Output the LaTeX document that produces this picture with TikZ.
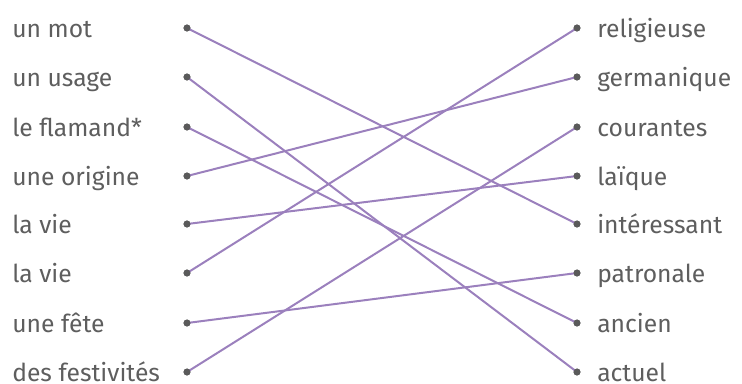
\documentclass[tikz,border=0pt]{standalone}
\usepackage{fontspec}
\setmainfont{Fira Sans}
\definecolor{txt}{HTML}{5E5E5E}
\definecolor{lnk}{HTML}{9B80BD}
\definecolor{dotc}{HTML}{5A5A5A}
\begin{document}
\begin{tikzpicture}[x=0.75pt,y=-0.75pt,
  lab/.style={font=\fontsize{18.5}{20}\selectfont,text=txt,inner sep=0pt,anchor=base west},
  dotn/.style={circle,fill=dotc,inner sep=0pt,minimum size=5.2pt},
  link/.style={draw=lnk,line width=1.5pt}]
\useasboundingbox (0,0) rectangle (742,383);
\foreach \i/\y/\t in {1/28/un mot,2/77/un usage,3/127/le flamand*,4/176/une origine,5/224/la vie,6/273/la vie,7/323/une fête,8/372/des festivités}{
  \node[lab] (L\i) at (12,\y+9) {\t};
  \node[dotn] (a\i) at (187,\y) {};
}
\foreach \i/\y/\t in {1/28/religieuse,2/77/germanique,3/127/courantes,4/176/laïque,5/224/intéressant,6/273/patronale,7/323/ancien,8/372/actuel}{
  \node[lab] (R\i) at (597,\y+9) {\t};
  \node[dotn] (b\i) at (577,\y) {};
}
\foreach \s/\e in {1/5,2/8,3/7,4/2,5/4,6/1,7/6,8/3}{
  \draw[link] (a\s.center) -- (b\e.center);
}
\foreach \i in {1,...,8}{\node[dotn] at (a\i) {}; \node[dotn] at (b\i) {};}
\end{tikzpicture}
\end{document}
